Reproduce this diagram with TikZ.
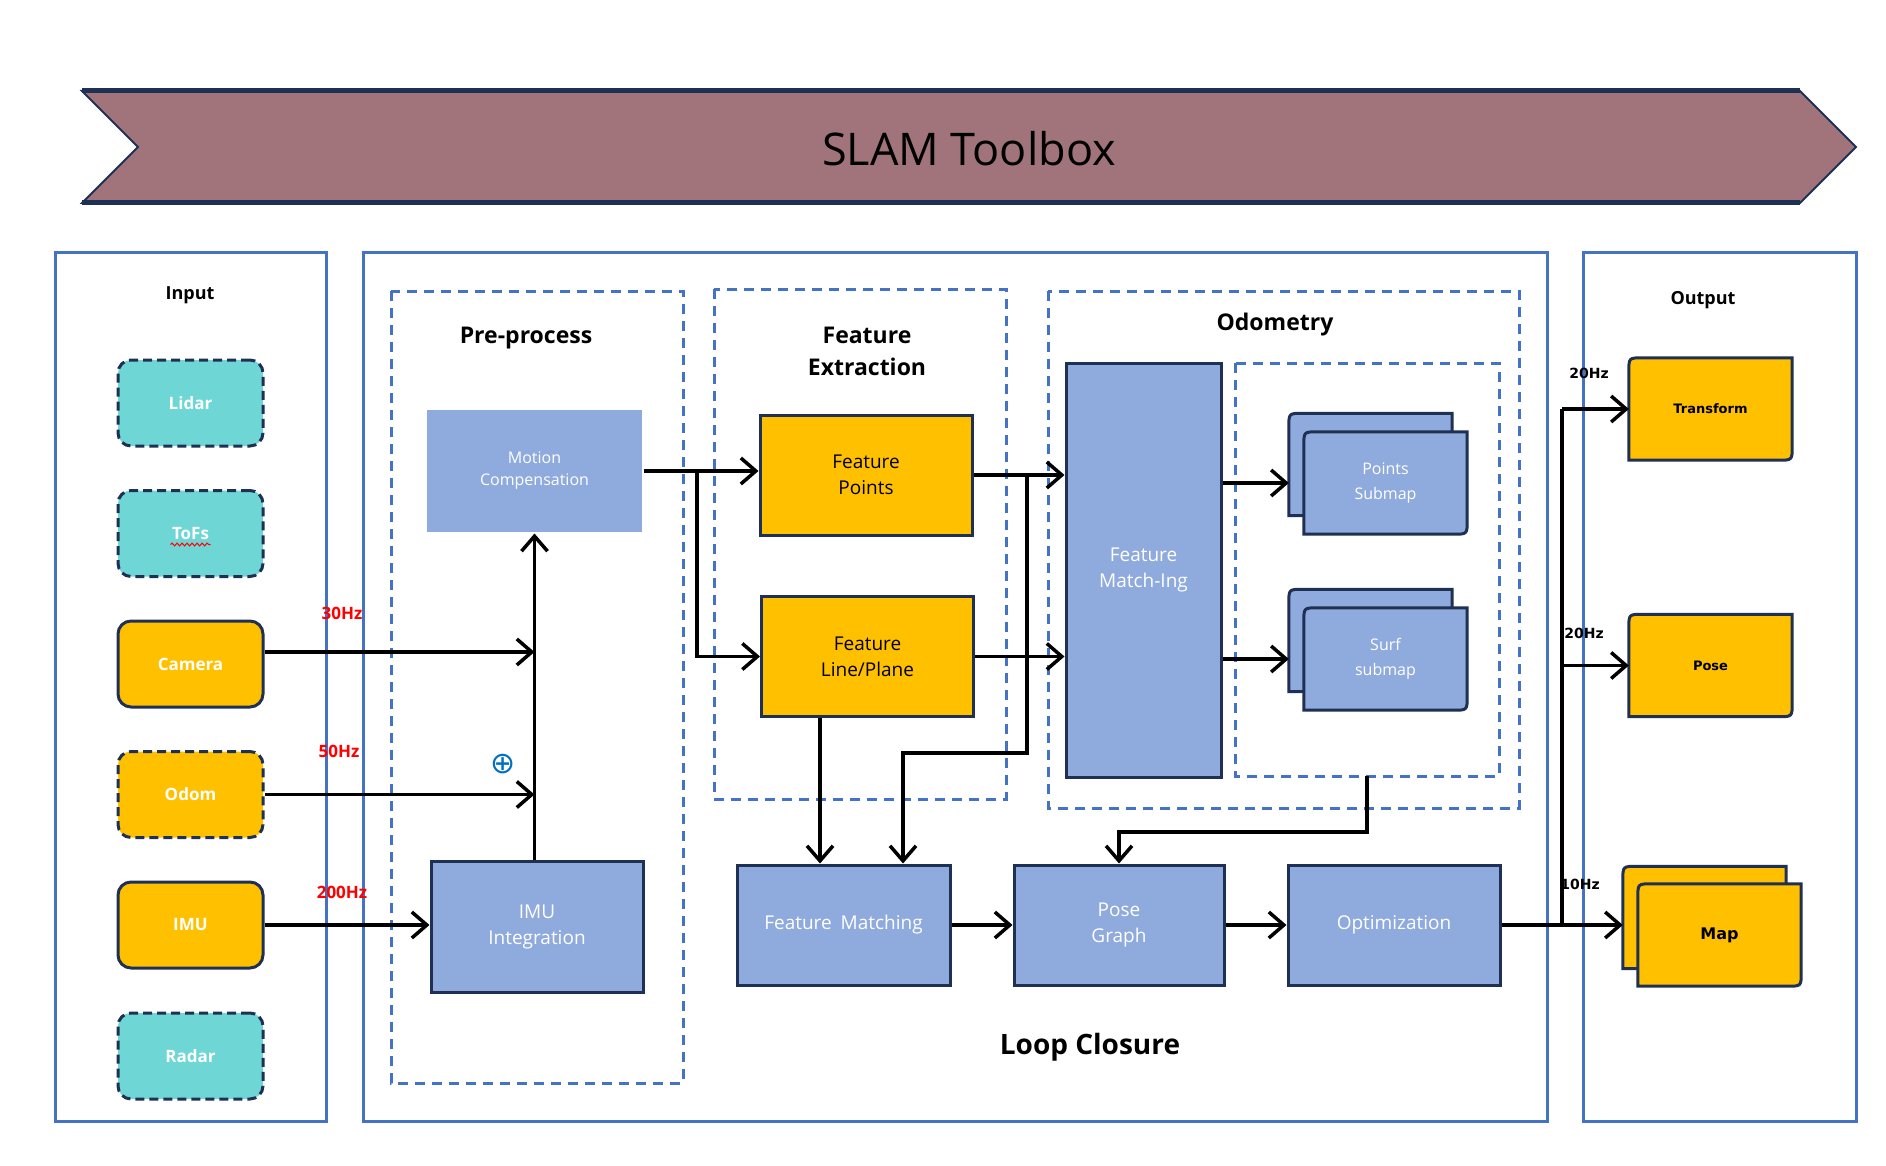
\documentclass[tikz,border=0pt]{standalone}
\usepackage{fontspec}
\setmainfont{Open Sans}
\newfontfamily\dvs{DejaVu Sans}
\usetikzlibrary{arrows.meta, positioning, backgrounds, decorations.pathmorphing}
\definecolor{cNavy}{RGB}{31,48,85}
\definecolor{cFrame}{RGB}{68,114,196}
\definecolor{cMauve}{RGB}{161,116,123}
\definecolor{cTeal}{RGB}{111,214,214}
\definecolor{cGold}{RGB}{255,192,0}
\definecolor{cSteel}{RGB}{143,170,220}
\definecolor{cPlus}{RGB}{0,112,192}
\newcommand{\fsz}[2]{\fontsize{#1}{#2}\selectfont}
% card with two rounded corners (top left, bottom right)
\newcommand{\diagcard}[2]{%
  \filldraw[fill=#2, draw=cNavy, line width=3pt]
    (#1.south west) -- ([yshift=-14pt]#1.north west)
    .. controls (#1.north west) .. ([xshift=14pt]#1.north west)
    -- (#1.north east) -- ([yshift=14pt]#1.south east)
    .. controls (#1.south east) .. ([xshift=-14pt]#1.south east) -- cycle;}
\tikzset{
  panel/.style={draw=cFrame, line width=3pt},
  grp/.style={draw=cFrame, line width=3pt, dash pattern=on 10pt off 7pt},
  src/.style={rectangle, rounded corners=13pt, draw=cNavy, line width=3pt,
    minimum width=145pt, minimum height=86pt, text=white, font=\bfseries\fsz{17}{20}},
  srcT/.style={src, fill=cTeal, dash pattern=on 9pt off 5pt},
  srcY/.style={src, fill=cGold},
  srcYd/.style={src, fill=cGold, dash pattern=on 9pt off 5pt},
  blk/.style={rectangle, fill=cSteel, draw=cNavy, line width=3pt, text=white,
    align=center, inner sep=0pt, font=\fsz{19}{26}},
  featbox/.style={rectangle, fill=cGold, draw=cNavy, line width=3pt, text=black,
    align=center, inner sep=0pt, minimum width=212pt, minimum height=120pt, font=\fsz{19}{26}},
  card/.style={minimum width=163pt, minimum height=102pt, inner sep=0pt, align=center},
  arr/.style={-{Straight Barb[length=15pt,width=26pt]}, line width=3.5pt},
  wire/.style={line width=3.5pt},
  hz/.style={text=red, font=\bfseries\fsz{17}{20}},
  hzo/.style={font=\dvs\bfseries\fsz{14}{17}},
  ttl/.style={font=\bfseries\fsz{23}{32}, align=center},
}
\begin{document}
\begin{tikzpicture}[x=1pt, y=-1pt]
  \useasboundingbox (0,0) rectangle (1886,1166);

  % Banner
  \fill[cMauve] (82,91) -- (1800,91) -- (1856,147) -- (1800,203) -- (82,203) -- (138,147) -- cycle;
  \draw[cNavy, line width=2pt] (82,91) -- (1800,91) -- (1856,147) -- (1800,203) -- (82,203) -- (138,147) -- cycle;
  \draw[cNavy, line width=5pt] (82,91) -- (1800,91) (82,203) -- (1800,203);
  \node[font=\fsz{45}{50}] (title) at (969,149) {SLAM Toolbox};

  % Panels and groups
  \draw[panel] (55,253) rectangle (326,1121);
  \draw[panel] (363,253) rectangle (1547,1121);
  \draw[panel] (1583,253) rectangle (1856,1121);
  \draw[grp] (391,291) rectangle (683,1083);
  \draw[grp] (714,289) rectangle (1006,799);
  \draw[grp] (1048,291) rectangle (1519,808);
  \draw[grp] (1235,363) rectangle (1499,776);

  \node[font=\bfseries\fsz{18}{22}] (lblIn) at (190,295) {Input};
  \node[ttl] (lblPre) at (526,338) {Pre-process};
  \node[ttl] (lblFe) at (867,351) {Feature\\Extraction};
  \node[ttl] (lblOdo) at (1275,325) {Odometry};
  \node[font=\bfseries\fsz{28}{32}] (lblLoop) at (1090,1047) {Loop Closure};
  \node[font=\bfseries\fsz{18}{22}] (lblOut) at (1703,300) {Output};

  % Sensors
  \foreach \nm/\lbl/\sty/\yy in {lidar/Lidar/srcT/403, tofs/ToFs/srcT/533.5,
      cam/Camera/srcY/664, odom/Odom/srcYd/794.5, imu/IMU/srcY/925, radar/Radar/srcT/1056}
    \node[\sty] (\nm) at (190.5,\yy) {\lbl};
  \draw[red, line width=1pt, decorate, decoration={snake, amplitude=1.4pt, segment length=5pt}]
    ([xshift=-20pt, yshift=-11pt]tofs.center) -- ([xshift=20pt, yshift=-11pt]tofs.center);

  % Pre-process
  \node[blk, draw=none, minimum width=215pt, minimum height=122pt, font=\fsz{16}{22}] (mc) at (534.5,471) {Motion\\Compensation};
  \node[blk, minimum width=212pt, minimum height=131pt] (imuint) at (537,926.5) {IMU\\Integration};
  \node[text=cPlus, font=\dvs\fsz{30}{30}, inner sep=0pt] (sum) at (503,764) {⊕};

  % Feature extraction + odometry
  \node[featbox] (fp) at (866,475) {Feature\\Points};
  \node[featbox] (lp) at (867.5,656.5) {Feature\\Line/Plane};
  \node[blk, minimum width=155pt, minimum height=414pt] (fmi) at (1143.5,570) {Feature\\Match-Ing};
  \node[card] (ptsb) at (1370.5,464.5) {};
  \node[card, text=white, font=\fsz{16}{25}] (pts) at (1385.5,483) {Points\\Submap};
  \node[card] (surfb) at (1370.5,640.5) {};
  \node[card, text=white, font=\fsz{16}{25}] (surf) at (1385.5,659) {Surf\\submap};

  % Loop closure
  \node[blk, minimum width=213pt, minimum height=120pt] (fm) at (843.5,925) {Feature\hspace{4pt} Matching};
  \node[blk, minimum width=210pt, minimum height=120pt] (pg) at (1119,925) {Pose\\Graph};
  \node[blk, minimum width=212pt, minimum height=120pt] (opt) at (1394,925) {Optimization};

  % Outputs
  \node[card, font=\dvs\bfseries\fsz{13}{16}] (tf) at (1710.5,409) {Transform};
  \node[card, font=\dvs\bfseries\fsz{13}{16}] (pose) at (1710.5,665.5) {Pose};
  \node[card] (mapb) at (1704.5,917.5) {};
  \node[card, font=\dvs\bfseries\fsz{16}{19}] (map) at (1719.5,935) {Map};

  \begin{pgfonlayer}{background}
    \diagcard{ptsb}{cSteel}
    \diagcard{pts}{cSteel}
    \diagcard{surfb}{cSteel}
    \diagcard{surf}{cSteel}
    \diagcard{tf}{cGold}
    \diagcard{pose}{cGold}
    \diagcard{mapb}{cGold}
    \diagcard{map}{cGold}
  \end{pgfonlayer}

  % Rates
  \node[hz] (hz30) at (342,613) {30Hz};
  \node[hz] (hz50) at (339,751) {50Hz};
  \node[hz] (hz200) at (342,892) {200Hz};
  \node[hzo] (hzTf) at (1589,373) {20Hz};
  \node[hzo] (hzPs) at (1584,633) {20Hz};
  \node[hzo] (hzMp) at (1580,884) {10Hz};

  % Sensor inputs
  \coordinate (camJoin) at (mc.south |- 0,652);
  \coordinate (odomJoin) at (mc.south |- odom.east);
  \draw[arr] (imuint.north -| mc.south) -- (mc.south);
  \draw[arr] (cam.east |- camJoin) -- (camJoin);
  \draw[arr] (odom.east) -- (odomJoin);
  \draw[arr] (imu.east) -- (imu.east -| imuint.west);

  % Pre-process -> features -> odometry
  \coordinate (splitA) at (697,473);
  \coordinate (splitB) at (1027,475);
  \draw[arr] (mc.east) -- (mc.east -| fp.west);
  \draw[arr] (splitA) |- (lp.west);
  \draw[arr] (fp.east) -- (fp.east -| fmi.west);
  \draw[arr] (lp.east) -- (lp.east -| fmi.west);
  \draw[arr] (splitB) -- (1027,753) -| ([xshift=59.5pt]fm.north);
  \draw[arr] ([xshift=-47.5pt]lp.south) -- ([xshift=-47.5pt]lp.south |- fm.north);
  \draw[arr] (fmi.east |- pts) -- (ptsb.west |- pts);
  \draw[arr] (fmi.east |- surf) -- (surfb.west |- surf);

  % Loop closure chain
  \coordinate (subOut) at (1367,776);
  \draw[arr] (subOut) -- (1367,832) -| (pg.north);
  \draw[arr] (fm.east) -- (pg.west);
  \draw[arr] (pg.east) -- (opt.west);

  % Output bus
  \coordinate (bus) at (1562,925);
  \draw[arr] (opt.east) -- (opt.east -| mapb.west);
  \draw[wire] (bus) -- (bus |- tf.west);
  \draw[arr] (bus |- tf.west) -- (tf.west);
  \draw[arr] (bus |- pose.west) -- (pose.west);
\end{tikzpicture}
\end{document}
